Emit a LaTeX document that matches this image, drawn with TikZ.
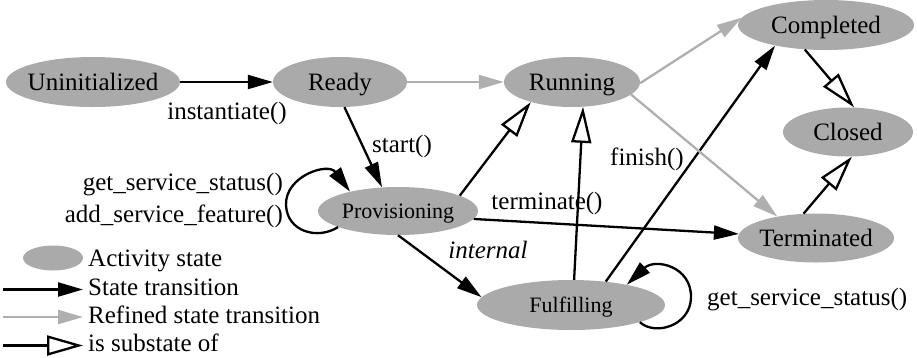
\documentclass[tikz,border=0pt]{standalone}
\usepackage{fontspec}
\setmainfont{Liberation Serif}
\usetikzlibrary{shapes.geometric,arrows.meta}
\definecolor{nodegray}{RGB}{170,170,170}
\definecolor{edgegray}{RGB}{175,175,175}
\newcommand\ztext[1]{\makebox[0pt]{#1}}
\begin{document}
\begin{tikzpicture}[x=1pt,y=-1pt,
  state/.style={ellipse,fill=nodegray,inner sep=0pt,text height=16.5pt,text depth=0pt,
    font=\fontsize{25}{30}\selectfont},
  smalltext/.style={font=\fontsize{22}{26}\selectfont,text height=14.5pt},
  lbl/.style={inner sep=0pt,font=\fontsize{25}{30}\selectfont},
  trans/.style={draw=black,line width=2.3pt,-{Triangle[length=25pt,width=14pt]}},
  refined/.style={draw=edgegray,line width=2.3pt,-{Triangle[length=25pt,width=14pt]}},
  substate/.style={draw=black,line width=2.3pt,-{Triangle[open,length=36pt,width=20pt,fill=white]}},
]
\useasboundingbox (0,0) rectangle (917,357);

% states
\node[state,minimum width=174pt,minimum height=50pt] (unin)  at (93,82)   {\ztext{Uninitialized}};
\node[state,minimum width=134pt,minimum height=50pt] (ready) at (340,82)  {\ztext{Ready}};
\node[state,minimum width=136pt,minimum height=50pt] (run)   at (572,82)  {\ztext{Running}};
\node[state,minimum width=176pt,minimum height=50pt] (comp)  at (826,25)  {\ztext{Completed}};
\node[state,minimum width=130pt,minimum height=49pt] (clo)   at (848,132) {\ztext{Closed}};
\node[state,minimum width=156pt,minimum height=49pt] (term)  at (816,238) {\ztext{Terminated}};
\node[state,smalltext,minimum width=160pt,minimum height=48pt] (prov) at (398,211) {\ztext{Provisioning}};
\node[state,smalltext,minimum width=188pt,minimum height=50pt] (ful)  at (571,305) {\ztext{Fulfilling}};

% transitions
\draw[trans] (unin) -- (ready);
\draw[refined] (ready) -- (run);
\draw[trans] (ready.-80) -- (prov.124);
\draw[substate] (prov.14) -- (run.206);
\draw[substate] (ful.83) -- (run.-66);
\draw[trans] (ful.34) -- (comp.202);
\draw[refined] (run.-1) -- (comp.175);
\draw[refined] (run.-12) -- (term.151);
\draw[substate] (comp.229) -- (clo.76);
\draw[substate] (term.117) -- (clo.-81);
\draw[trans] (prov.-6) -- (term.177);
\draw[trans] (prov.south) -- (ful.175);
\draw[trans] (prov.195) .. controls (318,240) and (287,232) .. (286,205)
                        .. controls (285,176) and (328,162) .. (prov.158);
\draw[trans] (ful.-14) .. controls (655,336) and (690,326) .. (691,298)
                       .. controls (692,266) and (655,258) .. (ful.20);

% labels
\node[lbl] (linst) at (227,113) {instantiate()};
\node[lbl] (lstart) at (402,146) {start()};
\node[lbl,align=right,anchor=east,font=\fontsize{25}{32}\selectfont] (lloop) at (283,200)
  {get\_service\_status()\\add\_service\_feature()};
\node[lbl] (lterm) at (547,203) {terminate()};
\node[lbl,font=\fontsize{25}{30}\selectfont\itshape] (lint) at (488,250) {internal};
\node[lbl] (lfin) at (647,159) {finish()};
\node[lbl,anchor=west] (lstat) at (707,300) {get\_service\_status()};

% legend
\node[ellipse,fill=nodegray,minimum width=60pt,minimum height=25pt,inner sep=0pt] (legell) at (53,258) {};
\node[lbl,anchor=base west] (tact) at (88,266) {Activity state};
\node[lbl,anchor=base west] (ttr)  at (88,295) {State transition};
\node[lbl,anchor=base west] (tref) at (88,323) {Refined state transition};
\node[lbl,anchor=base west] (tsub) at (88,351) {is substate of};
\coordinate (a1) at (3,289.5);  \coordinate (b1) at (83,289.5);
\coordinate (a2) at (3,317);    \coordinate (b2) at (83,317);
\coordinate (a3) at (3,345.5);  \coordinate (b3) at (83,345.5);
\draw[trans] (a1) -- (b1);
\draw[refined] (a2) -- (b2);
\draw[substate] (a3) -- (b3);
\end{tikzpicture}
\end{document}
